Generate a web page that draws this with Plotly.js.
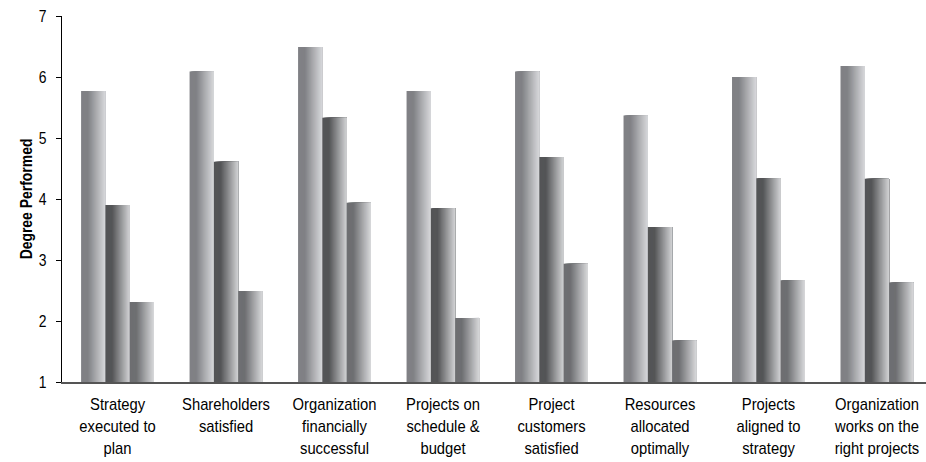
<!DOCTYPE html>
<html>
<head>
<meta charset="utf-8">
<script src="https://cdn.plot.ly/plotly-3.0.1.min.js"></script>
<style>html,body{margin:0;padding:0;background:#fff;}#chart{width:926px;height:462px;}</style>
</head>
<body>
<div id="chart"></div>
<script>
// ---- data ----
const categories = [
  "Strategy<br>executed to<br>plan",
  "Shareholders<br>satisfied",
  "Organization<br>financially<br>successful",
  "Projects on<br>schedule &<br>budget",
  "Project<br>customers<br>satisfied",
  "Resources<br>allocated<br>optimally",
  "Projects<br>aligned to<br>strategy",
  "Organization<br>works on the<br>right projects"
];
const series1 = [5.77, 6.09, 6.49, 5.77, 6.09, 5.37, 6.00, 6.18];
const series2 = [3.90, 4.61, 5.33, 3.85, 4.69, 3.54, 4.34, 4.33];
const series3 = [2.31, 2.49, 3.94, 2.05, 2.94, 1.68, 2.67, 2.63];
const yTicks = [1, 2, 3, 4, 5, 6, 7];

// ---- styling (gradient simulated with stacked slices) ----
const seriesList = [series1, series2, series3];
const darkCols = [[128,129,133],[84,85,87],[110,111,114]];
const lightCols = [[216,217,219],[210,211,213],[216,217,219]];
const barW = 0.224;
const offsets = [-0.336, -0.112, 0.112];
const N = 24;
const FONT = 'Liberation Sans, Arial, sans-serif';

function mix(a, b, t) {
  return 'rgb(' + a.map((v, i) => Math.round(v + (b[i] - v) * t)).join(',') + ')';
}

const traces = [];
seriesList.forEach((vals, s) => {
  for (let k = 0; k < N; k++) {
    const t = (k + 0.5) / N;
    const tt = t < 0.28 ? 0 : (t - 0.28) / 0.72;
    traces.push({
      type: 'bar',
      x: categories,
      y: vals,
      offset: offsets[s] + k * barW / N,
      width: barW * (N - k) / N,
      marker: {color: mix(darkCols[s], lightCols[s], tt), line: {width: 0}},
      showlegend: false,
      hoverinfo: 'skip'
    });
  }
});

const layout = {
  width: 926, height: 462,
  margin: {l: 62, r: 0, t: 16, b: 79.5},
  paper_bgcolor: '#fff', plot_bgcolor: '#fff',
  barmode: 'overlay',
  font: {family: FONT, color: '#000', size: 17},
  xaxis: {
    type: 'category',
    range: [-0.512, 7.452],
    showline: true, linecolor: '#555', linewidth: 1.5,
    ticks: '', showgrid: false, zeroline: false,
    tickfont: {size: 17, family: FONT},
    ticklabelstandoff: 6,
    fixedrange: true
  },
  yaxis: {
    range: [1, 7],
    tickvals: yTicks, ticktext: yTicks.map(String),
    showline: true, linecolor: '#000', linewidth: 1,
    ticks: 'outside', ticklen: 5, tickcolor: '#000', tickwidth: 1,
    showgrid: false, zeroline: false,
    tickfont: {size: 17, family: FONT},
    ticklabelstandoff: 6,
    title: {text: '<b>Degree Performed</b>', font: {size: 17, family: FONT}, standoff: 0},
    fixedrange: true
  }
};

// horizontal condensing to mimic the narrow face of the reference
function condense(el, f) {
  const x = parseFloat(el.getAttribute('x')) || 0;
  const y = parseFloat(el.getAttribute('y')) || 0;
  const prev = el.getAttribute('transform') || '';
  el.setAttribute('transform', prev + ` translate(${x},${y}) scale(${f},1) translate(${-x},${-y})`);
}

Plotly.newPlot('chart', traces, layout, {staticPlot: true, displayModeBar: false}).then(gd => {
  gd.querySelectorAll('.xtick text').forEach(el => condense(el, 0.87));
  gd.querySelectorAll('.ytick text, .ytitle').forEach(el => condense(el, 0.82));
});
</script>
</body>
</html>
